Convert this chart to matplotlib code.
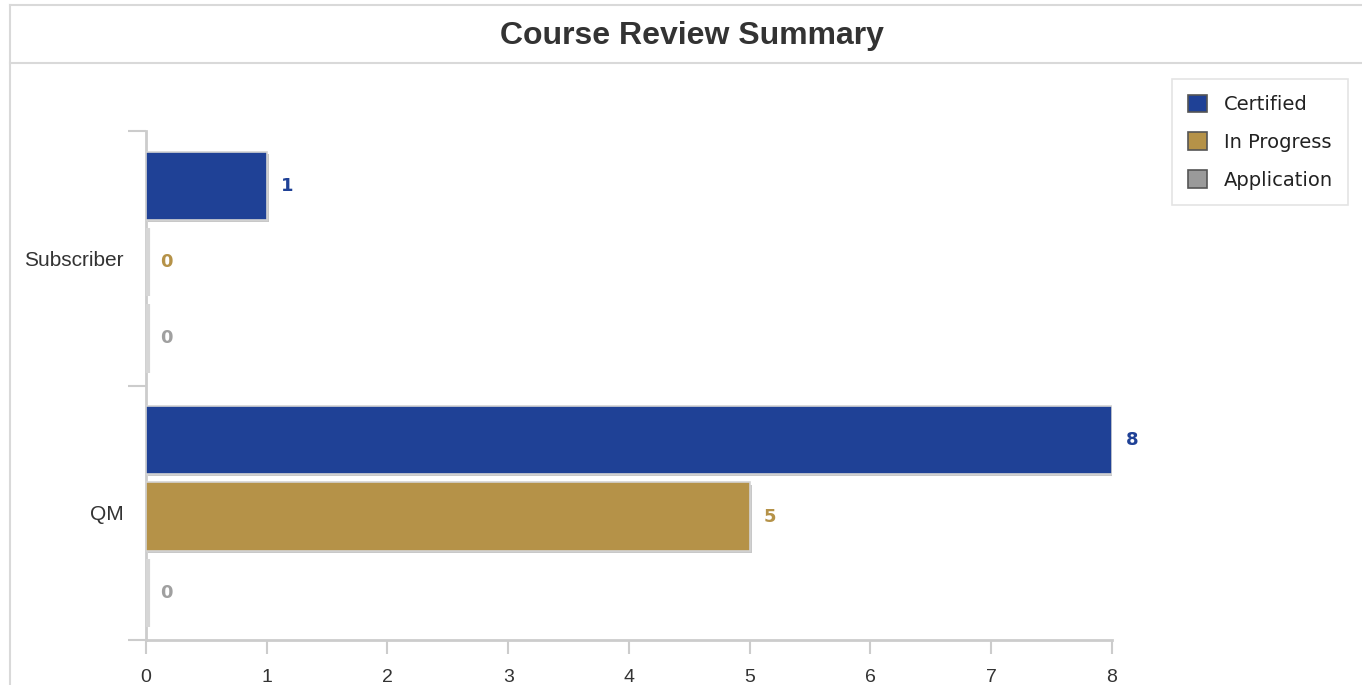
import matplotlib
matplotlib.use("Agg")
import matplotlib.pyplot as plt
from matplotlib.patches import Patch
from matplotlib.lines import Line2D
import matplotlib.patheffects as pe
import numpy as np

title = "Course Review Summary"
categories = ["Subscriber", "QM"]
series_names = ["Certified", "In Progress", "Application"]
certified = [1, 8]
in_progress = [0, 5]
application = [0, 0]
x_ticks = [0, 1, 2, 3, 4, 5, 6, 7, 8]

colors = ["#1f4196", "#b59248", "#9a9a9a"]
label_colors = ["#1f4196", "#b59248", "#a0a0a0"]

W, H = 1362, 685
fig = plt.figure(figsize=(W / 100, H / 100), dpi=100)
fig.patch.set_facecolor("white")

def fx(px):
    return px / W
def fy(py):
    return 1 - py / H
frame_col = "#d9d9d9"
fig.add_artist(Line2D([fx(10), fx(10)], [fy(5), fy(685)], color=frame_col, lw=1.5))
fig.add_artist(Line2D([fx(10), 1], [fy(5), fy(5)], color=frame_col, lw=1.5))
fig.add_artist(Line2D([fx(10), 1], [fy(63), fy(63)], color=frame_col, lw=1.5))

fig.text(fx(692), fy(36), title, ha="center", va="center", fontsize=23,
         fontweight="bold", family="Liberation Sans", color="#333333")

ax = fig.add_axes([fx(146), fy(640), fx(1112) - fx(146), (640 - 131) / H])
ax.set_xlim(0, 8)
ax.set_ylim(1.5, -0.5)

series = [certified, in_progress, application]
bar_h = 0.268
step = 0.3
shift = 0.015
y = np.arange(len(categories))
for i, (vals, c, lc) in enumerate(zip(series, colors, label_colors)):
    pos = y + (i - 1) * step + shift
    bars = ax.barh(pos, vals, height=bar_h, color=c, edgecolor="#d4d4d4",
                   linewidth=1.2, zorder=3)
    for b, v in zip(bars, vals):
        if v == 0:
            b.set_path_effects([pe.Stroke(linewidth=3, foreground="#d6d6d6",
                                          offset=(1.5, 0))])
        else:
            b.set_path_effects([pe.SimplePatchShadow(offset=(1.5, -1.5),
                                                     shadow_rgbFace="#c8c8c8", alpha=1.0),
                                pe.Normal()])
    for p, v in zip(pos, vals):
        ax.annotate(str(v), (v, p), xytext=(10, 0), textcoords="offset points",
                    ha="left", va="center", fontsize=13, fontweight="bold",
                    color=lc, family="DejaVu Sans")

for s in ["top", "right"]:
    ax.spines[s].set_visible(False)
for s in ["left", "bottom"]:
    ax.spines[s].set_color("#cccccc")
    ax.spines[s].set_linewidth(2)

ax.set_xticks(x_ticks)
ax.set_xticklabels([str(t) for t in x_ticks])
ax.tick_params(axis="x", length=10, width=1.5, color="#cccccc", labelsize=14,
               labelcolor="#333333", pad=11)
ax.set_yticks(y)
ax.set_yticklabels(categories)
ax.tick_params(axis="y", which="major", length=0, labelsize=15,
               labelcolor="#333333", pad=16)
ax.set_yticks([-0.5, 0.5, 1.5], minor=True)
ax.tick_params(axis="y", which="minor", length=13, width=1.5, color="#cccccc")
for lbl in ax.get_xticklabels() + ax.get_yticklabels():
    lbl.set_family("Liberation Sans")

handles = [Patch(facecolor=c, edgecolor="#555555", linewidth=1.2, label=n)
           for c, n in zip(colors, series_names)]
leg = fig.legend(handles=handles, loc="upper left",
                 bbox_to_anchor=(fx(1172), fy(79)), frameon=True, fancybox=False,
                 edgecolor="#dddddd", fontsize=14, handlelength=1.0, handleheight=1.0,
                 labelspacing=0.95, handletextpad=0.85, borderpad=0.8,
                 borderaxespad=0)
leg.get_frame().set_linewidth(1.2)
for t in leg.get_texts():
    t.set_color("#222222")
    t.set_family("DejaVu Sans")

fig.savefig("out.png", dpi=100, facecolor="white")
